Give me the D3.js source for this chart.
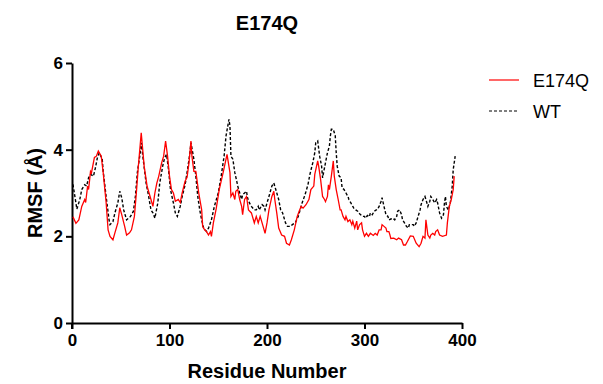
<!DOCTYPE html>
<html>
<head>
<meta charset="utf-8">
<script src="https://cdn.jsdelivr.net/npm/d3@7"></script>
<style>
  body { margin: 0; background: #fff; }
  svg { font-family: "Liberation Sans", Arial, sans-serif; }
</style>
</head>
<body>
<div id="chart"></div>
<script>
// E174Q series (residue, RMSF)
const e174qRes = [1,4,7,10,13,14,16,17,19,20,23,25,27,30,32,35,37,39,42,44,47,49,51,54,56,59,61,64,66,68,71,74,77,81,83,85,87,89,92,94,96,98,100,102,104,106,109,111,113,116,118,120,122,123,125,127,130,133,134,136,138,140,142,143,145,148,151,155,159,162,163,165,167,168,170,172,174,175,177,179,181,184,187,189,191,193,196,198,200,202,205,207,208,210,212,215,218,220,223,225,228,231,233,235,237,240,243,245,248,249,252,253,255,257,259,260,262,263,264,266,268,269,271,273,275,276,278,280,281,283,285,287,288,290,292,293,295,297,298,300,302,304,306,309,311,313,315,317,318,320,322,323,325,326,327,330,333,335,338,340,342,344,347,350,353,356,358,360,362,363,365,367,368,370,372,373,375,377,380,384,385,387,389,391,392];
const e174qRmsf = [2.45,2.30,2.38,2.69,2.85,2.78,3.16,3.08,3.50,3.47,3.82,3.85,3.97,3.85,3.47,2.78,2.15,2.00,1.92,2.08,2.31,2.66,2.50,2.23,2.03,2.08,2.15,2.46,3.00,3.60,4.39,3.62,3.16,2.85,2.69,3.00,3.23,3.39,3.70,3.85,4.20,3.85,3.39,3.08,3.00,2.81,2.85,2.78,3.00,3.27,3.36,3.70,4.20,3.85,3.50,3.50,3.00,2.61,2.23,2.15,2.11,2.03,2.11,2.00,2.31,2.65,3.08,3.47,3.89,3.47,2.92,3.00,2.85,3.04,3.08,2.85,2.69,2.50,2.85,2.92,2.61,2.54,2.31,2.46,2.31,2.46,2.23,2.07,2.31,2.61,2.92,3.04,2.85,2.54,2.19,2.03,2.00,1.84,1.80,1.92,2.15,2.46,2.58,2.69,2.65,2.73,2.85,3.08,3.16,3.43,3.74,3.62,3.31,2.92,2.85,2.80,2.92,3.19,3.08,3.39,3.74,3.39,3.08,2.85,2.61,2.61,2.46,2.38,2.46,2.34,2.38,2.27,2.35,2.19,2.35,2.15,2.27,2.31,2.15,2.00,2.07,2.00,2.07,2.02,2.07,2.03,2.15,2.15,2.27,2.23,2.19,2.11,2.11,2.04,1.95,1.96,1.92,1.96,1.92,1.80,1.80,1.88,2.01,2.00,1.84,1.76,1.84,2.00,1.96,2.38,2.03,1.96,2.03,2.07,2.03,2.11,2.15,2.03,2.00,2.03,2.31,2.69,2.85,3.08,3.39];

// WT series (residue, RMSF)
const wtRes = [1,5,8,10,13,15,17,19,22,24,26,28,31,32,35,38,39,42,44,47,49,51,53,56,58,60,63,65,67,70,71,73,76,78,81,83,85,88,90,93,95,97,99,101,104,106,108,111,113,116,118,121,122,125,127,129,131,133,135,138,140,143,146,150,153,156,158,161,162,163,165,167,169,170,172,174,175,177,179,180,182,184,187,189,191,192,195,197,198,200,202,205,207,209,212,214,216,219,221,224,226,229,232,234,236,239,242,244,247,249,250,252,254,256,257,260,262,264,265,266,268,270,271,272,274,276,277,279,281,283,284,286,288,289,291,293,294,296,298,300,301,303,305,306,308,310,312,313,315,317,318,320,322,324,325,327,329,331,333,334,336,338,339,341,343,345,346,350,351,353,355,357,358,360,362,363,365,367,368,370,372,374,375,377,379,381,382,383,384,386,388,390,391,393];
const wtRmsf = [3.20,2.63,2.85,3.08,3.19,3.16,3.35,3.43,3.39,3.58,3.81,3.93,3.78,3.50,2.92,2.38,2.27,2.34,2.54,2.77,3.04,2.89,2.61,2.38,2.42,2.46,2.58,2.92,3.47,3.93,4.16,3.78,3.23,3.00,2.61,2.54,2.42,2.77,3.23,3.62,3.81,3.89,3.54,3.08,2.77,2.54,2.46,2.69,2.92,3.19,3.47,3.93,4.16,3.78,3.39,2.92,2.61,2.38,2.19,2.11,2.19,2.38,2.69,3.00,3.39,3.85,4.32,4.70,4.55,3.85,3.78,3.47,3.27,3.16,3.00,2.85,2.96,3.00,3.04,2.89,2.77,2.69,2.61,2.61,2.69,2.61,2.73,2.69,2.61,2.77,2.92,3.16,3.23,3.08,2.85,2.61,2.54,2.31,2.23,2.23,2.27,2.31,2.46,2.61,2.77,2.96,3.19,3.43,3.70,3.93,4.16,4.20,3.85,3.62,3.35,3.70,3.93,4.08,4.32,4.47,4.47,4.32,3.93,3.62,3.39,3.35,3.12,3.08,3.00,2.92,2.85,2.77,2.69,2.65,2.61,2.58,2.54,2.50,2.46,2.46,2.42,2.48,2.45,2.54,2.50,2.58,2.61,2.61,2.69,2.81,2.89,2.69,2.50,2.46,2.38,2.40,2.42,2.38,2.46,2.58,2.61,2.50,2.38,2.31,2.23,2.19,2.27,2.27,2.23,2.31,2.46,2.61,2.73,2.85,2.92,2.85,2.69,2.81,2.92,2.85,2.77,2.85,2.77,2.54,2.42,2.50,2.77,2.92,2.69,2.61,2.77,3.16,3.54,3.85];

const xTicks = [0, 100, 200, 300, 400];
const yTicks = [0, 2, 4, 6];
const seriesNames = ["E174Q", "WT"];

const width = 603, height = 384;
const margin = {left: 72, right: 141, top: 63, bottom: 61};

const svg = d3.select("#chart").append("svg")
  .attr("width", width)
  .attr("height", height);

const x = d3.scaleLinear().domain([0, 400]).range([margin.left, width - margin.right]);
const y = d3.scaleLinear().domain([0, 6]).range([height - margin.bottom, margin.top]);

// axes
const xAxis = svg.append("g")
  .attr("transform", `translate(0,${y(0)})`)
  .call(d3.axisBottom(x).tickValues(xTicks).tickFormat(d3.format("d"))
    .tickSize(6).tickPadding(5).tickSizeOuter(0));
const yAxis = svg.append("g")
  .attr("transform", `translate(${x(0)},0)`)
  .call(d3.axisLeft(y).tickValues(yTicks).tickFormat(d3.format("d"))
    .tickSize(6).tickPadding(3).tickSizeOuter(0));

[xAxis, yAxis].forEach(a => {
  a.select(".domain").attr("stroke", "#000").attr("stroke-width", 2);
  a.selectAll(".tick line").attr("stroke", "#000").attr("stroke-width", 2);
  a.selectAll(".tick text")
    .attr("fill", "#000")
    .style("font-size", "17px")
    .style("font-weight", "bold")
    .style("font-family", "'Liberation Sans', Arial, sans-serif");
});
// y axis pokes a little below the x axis
svg.append("line")
  .attr("x1", x(0)).attr("x2", x(0))
  .attr("y1", y(0)).attr("y2", y(0) + 6)
  .attr("stroke", "#000").attr("stroke-width", 2);

const line = d3.line()
  .x(d => x(d[0]))
  .y(d => y(d[1]));

const wtData = d3.zip(wtRes, wtRmsf);
const e174qData = d3.zip(e174qRes, e174qRmsf);

svg.append("path")
  .datum(wtData)
  .attr("fill", "none")
  .attr("stroke", "#000")
  .attr("stroke-width", 1.4)
  .attr("stroke-dasharray", "3,2")
  .attr("d", line);

svg.append("path")
  .datum(e174qData)
  .attr("fill", "none")
  .attr("stroke", "#ff0000")
  .attr("stroke-width", 1.3)
  .attr("d", line);

// title and axis labels
svg.append("text")
  .attr("x", x(200)).attr("y", 30)
  .attr("text-anchor", "middle")
  .style("font-size", "20px").style("font-weight", "bold")
  .text("E174Q");

svg.append("text")
  .attr("x", x(200)).attr("y", 378)
  .attr("text-anchor", "middle")
  .style("font-size", "20px").style("font-weight", "bold")
  .text("Residue Number");

svg.append("text")
  .attr("transform", `translate(42,${y(3)}) rotate(-90)`)
  .attr("text-anchor", "middle")
  .style("font-size", "20px").style("font-weight", "bold")
  .text("RMSF (Å)");

// legend
const legend = svg.append("g");
const legendY = [80, 111];
seriesNames.forEach((name, i) => {
  legend.append("line")
    .attr("x1", 489).attr("x2", 519)
    .attr("y1", legendY[i]).attr("y2", legendY[i])
    .attr("stroke", i === 0 ? "#ff0000" : "#000")
    .attr("stroke-width", 1.2)
    .attr("stroke-dasharray", i === 0 ? null : "3,2");
  legend.append("text")
    .attr("x", 533).attr("y", legendY[i] + 7)
    .style("font-size", "18px")
    .text(name);
});
</script>
</body>
</html>
